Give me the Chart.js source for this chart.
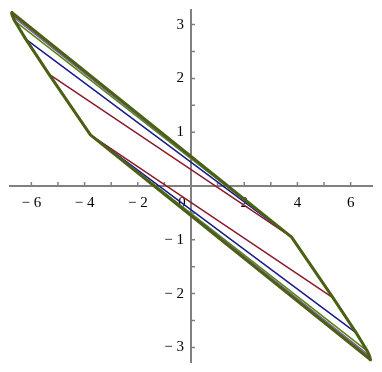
<!DOCTYPE html>
<html>
<head>
<meta charset="utf-8">
<script src="https://cdn.jsdelivr.net/npm/chart.js@4.4.0/dist/chart.umd.min.js"></script>
<style>
html, body { margin: 0; padding: 0; background: #fff; }
#wrap { width: 382px; height: 372px; }
</style>
</head>
<body>
<div id="wrap"><canvas id="c"></canvas></div>
<script>
// left boundary of the curves, from the lower corner up to the tip
var edgeX = [-3.78, -5.34, -6.21, -6.63, -6.70, -6.73, -6.75];
var edgeY = [0.95, 2.08, 2.73, 3.07, 3.15, 3.19, 3.23];
// each curve uses the edge up to this point (its top vertex)
var curveTop = [1, 2, 3, 4, 5, 6];
var curveColors = ['#8b1a2b', '#1a1a8f', '#4f8a10', '#8b4a9b', '#7f7f9f', '#4b6014'];
var curveWidths = [1.5, 1.5, 1.5, 1.5, 1.5, 3];

var xMin = -6.84, xMax = 6.84, yMin = -3.29, yMax = 3.29;
var xMinor = [-6, -5, -4, -3, -2, -1, 1, 2, 3, 4, 5, 6];
var xLabelVals = [-6, -4, -2, 2, 4, 6];
var yMinor = [-3, -2.5, -2, -1.5, -1, -0.5, 0.5, 1, 1.5, 2, 2.5, 3];
var yLabelVals = [-3, -2, -1, 1, 2, 3];

function label(v) {
  return v < 0 ? '\u2212 ' + (-v) : '' + v;
}

// build the closed polygon of one curve from the shared edge
function curvePoints(k) {
  var pts = [];
  for (var i = k; i >= 0; i--) pts.push({x: edgeX[i], y: edgeY[i]});
  for (var j = k; j >= 0; j--) pts.push({x: -edgeX[j], y: -edgeY[j]});
  pts.push({x: edgeX[k], y: edgeY[k]});
  return pts;
}

var datasets = [];
for (var n = 0; n < curveTop.length; n++) {
  datasets.push({
    data: curvePoints(curveTop[n]),
    showLine: true,
    borderColor: curveColors[n],
    borderWidth: curveWidths[n],
    pointRadius: 0,
    fill: false,
    tension: 0,
    borderJoinStyle: 'round',
    order: curveTop.length - n
  });
}

var axesPlugin = {
  id: 'axes',
  beforeDatasetsDraw: function(chart) {
    var ctx = chart.ctx;
    var xs = chart.scales.x, ys = chart.scales.y;
    var x0 = xs.getPixelForValue(0), y0 = ys.getPixelForValue(0);
    ctx.save();
    ctx.strokeStyle = '#808080';
    ctx.lineWidth = 2;
    ctx.beginPath();
    ctx.moveTo(xs.getPixelForValue(xMin), y0);
    ctx.lineTo(xs.getPixelForValue(xMax), y0);
    ctx.moveTo(x0, ys.getPixelForValue(yMax));
    ctx.lineTo(x0, ys.getPixelForValue(yMin));
    ctx.stroke();
    ctx.lineWidth = 1.5;
    ctx.beginPath();
    xMinor.forEach(function(v) {
      var px = xs.getPixelForValue(v);
      ctx.moveTo(px, y0);
      ctx.lineTo(px, y0 - 4);
    });
    yMinor.forEach(function(v) {
      var py = ys.getPixelForValue(v);
      ctx.moveTo(x0, py);
      ctx.lineTo(x0 + 4, py);
    });
    ctx.stroke();
    ctx.fillStyle = '#000';
    ctx.font = '15px "Liberation Serif"';
    ctx.textAlign = 'center';
    ctx.textBaseline = 'top';
    xLabelVals.forEach(function(v) {
      ctx.fillText(label(v), xs.getPixelForValue(v), y0 + 10);
    });
    ctx.fillText('0', x0 - 9, y0 + 10);
    ctx.textAlign = 'right';
    ctx.textBaseline = 'middle';
    yLabelVals.forEach(function(v) {
      ctx.fillText(label(v), x0 - 7, ys.getPixelForValue(v));
    });
    ctx.restore();
  }
};

new Chart(document.getElementById('c'), {
  type: 'scatter',
  data: { datasets: datasets },
  options: {
    responsive: true,
    maintainAspectRatio: false,
    animation: false,
    layout: { padding: { left: 9, right: 9, top: 9, bottom: 9 } },
    plugins: { legend: { display: false }, tooltip: { enabled: false } },
    scales: {
      x: { type: 'linear', min: xMin, max: xMax, display: false },
      y: { type: 'linear', min: yMin, max: yMax, display: false }
    }
  },
  plugins: [axesPlugin]
});
</script>
</body>
</html>
